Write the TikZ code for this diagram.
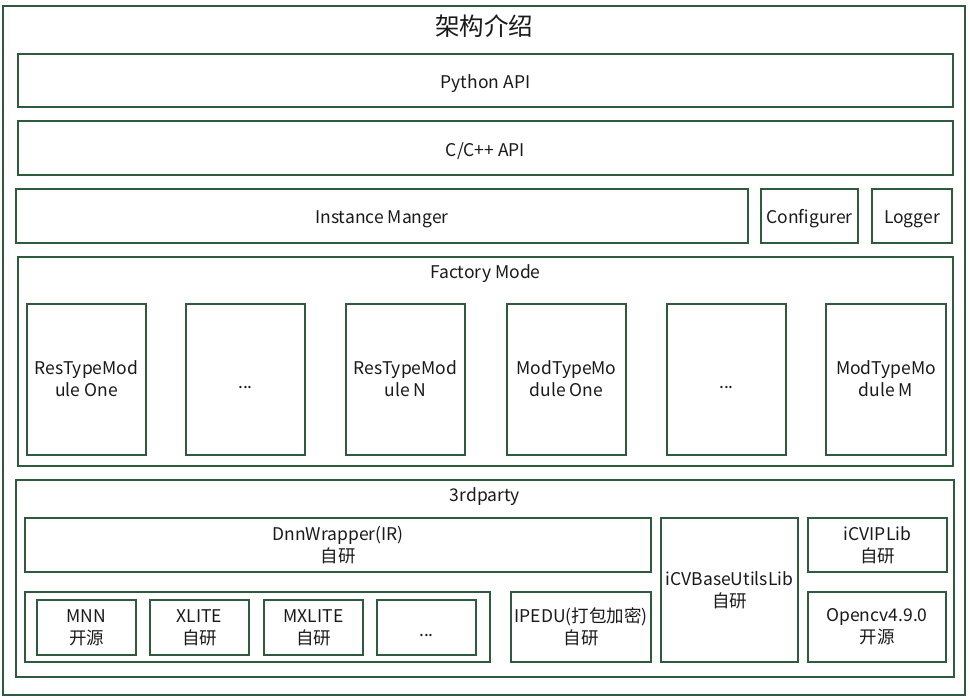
\documentclass[tikz,border=0pt]{standalone}
\usepackage{fontspec}
\setmainfont{Noto Sans CJK SC}
\definecolor{lc}{HTML}{2E5B3C}
\definecolor{tc}{HTML}{1A1A1A}
\newcommand{\mystrut}{\rule[-0.1em]{0pt}{1.2em}}
\tikzset{
  box/.style={draw=lc, line width=1.6pt, inner sep=0pt, fill=white, text=tc,
              align=center, font=\fontsize{17.5}{22}\selectfont,
              execute at begin node=\mystrut, execute at end node=\mystrut},
  toplab/.style={anchor=center, text=tc, font=\fontsize{17.5}{22}\selectfont,
              execute at begin node=\mystrut}
}
\newcommand{\bx}[7][]{\node[box, minimum width={(#5-#3)*1pt}, minimum height={(#6-#4)*1pt}, #1]
  (#2) at ({(#3+#5)/2},{(#4+#6)/2}) {#7};}
\begin{document}
\begin{tikzpicture}[x=1pt,y=-1pt]
\useasboundingbox (0,0) rectangle (970,700);
\bx[label={[toplab, yshift=-18.3pt, font=\fontsize{24.5}{28}\selectfont]north:架构介绍}]{outer}{3}{6}{965}{695}{}
\bx{py}{18}{54}{953}{107}{Python API}
\bx{cpp}{18}{121}{953}{175}{C/C++ API}
\bx{inst}{16}{189}{748}{243}{Instance Manger}
\bx{conf}{761}{189}{858}{243}{Configurer}
\bx{log}{872}{189}{952}{243}{Logger}
\bx[label={[toplab, yshift=-14.9pt]north:Factory Mode}]{fac}{18}{257}{953}{466}{}
\bx{ma}{27}{304}{146}{455}{ResTypeMod\\ule One}
\bx{mb}{186}{304}{305}{455}{...}
\bx{mc}{346}{304}{465}{455}{ResTypeMod\\ule N}
\bx{md}{507}{304}{626}{455}{ModTypeMo\\dule One}
\bx{me}{667}{304}{786}{455}{...}
\bx{mf}{826}{304}{946}{455}{ModTypeMo\\dule M}
\bx[label={[toplab, yshift=-14.9pt]north:3rdparty}]{third}{16}{480}{954}{677}{}
\bx{dnn}{25}{518}{651}{572}{DnnWrapper(IR)\\自研}
\bx{grp}{25}{592}{490}{662}{}
\bx{mnn}{37}{600}{136}{655}{MNN\\开源}
\bx{xlite}{150}{600}{249}{655}{XLITE\\自研}
\bx{mxlite}{264}{600}{363}{655}{MXLITE\\自研}
\bx{dots}{377}{600}{476}{655}{...}
\bx{ipedu}{511}{592}{651}{662}{IPEDU(打包加密)\\自研}
\bx{base}{661}{518}{798}{662}{iCVBaseUtilsLib\\自研}
\bx{ipl}{808}{518}{947}{572}{iCVIPLib\\自研}
\bx{ocv}{808}{592}{946}{662}{Opencv4.9.0\\开源}
\end{tikzpicture}
\end{document}
